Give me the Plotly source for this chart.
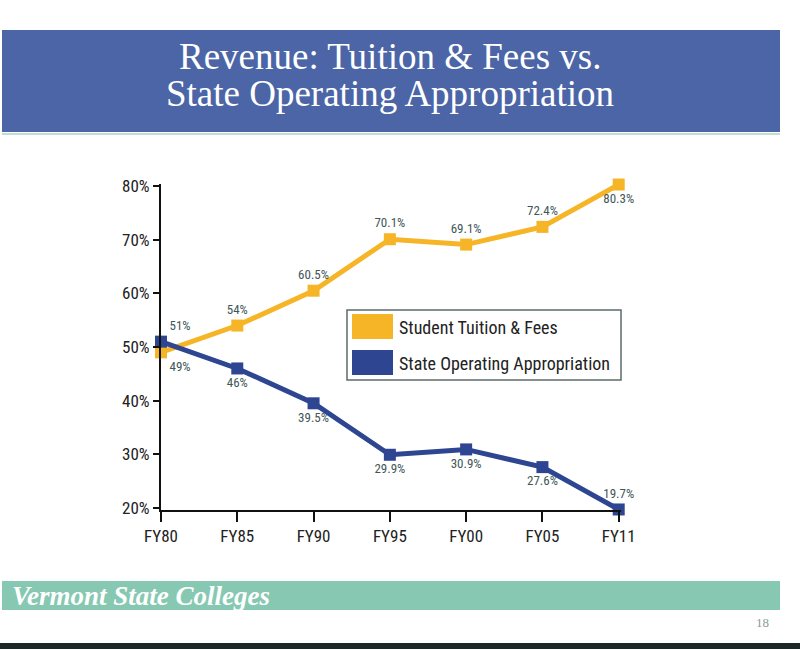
import plotly.graph_objects as go

categories = ["FY80", "FY85", "FY90", "FY95", "FY00", "FY05", "FY11"]
tuition = [49, 54, 60.5, 70.1, 69.1, 72.4, 80.3]
state = [51, 46, 39.5, 29.9, 30.9, 27.6, 19.7]
tuition_labels = ["49%", "54%", "60.5%", "70.1%", "69.1%", "72.4%", "80.3%"]
state_labels = ["51%", "46%", "39.5%", "29.9%", "30.9%", "27.6%", "19.7%"]
y_ticks = [20, 30, 40, 50, 60, 70, 80]
y_tick_labels = ["20%", "30%", "40%", "50%", "60%", "70%", "80%"]

W, H = 800, 649
L, R, T, B = 161, 621, 184, 510

def px(x):
    return (x - L) / (R - L)

def py(y):
    return (B - y) / (B - T)

ORANGE = "#f6b526"
BLUE = "#2e4591"
LABEL = "#3f5757"
NARROW = "Liberation Sans Narrow, Roboto Condensed, Arial Narrow, Roboto, sans-serif"
SERIF = "Liberation Serif, Times New Roman, serif"

xpos = list(range(len(categories)))

fig = go.Figure()
fig.add_trace(go.Scatter(
    x=xpos, y=tuition, mode="lines+markers+text",
    line=dict(color=ORANGE, width=5),
    marker=dict(symbol="square", size=12, color=ORANGE),
    text=tuition_labels,
    textposition=["bottom right", "top center", "top center", "top center",
                  "top center", "top center", "bottom center"],
    textfont=dict(family=NARROW, size=13, color=LABEL),
    cliponaxis=False, showlegend=False, name="Student Tuition & Fees"))
fig.add_trace(go.Scatter(
    x=xpos, y=state, mode="lines+markers+text",
    line=dict(color=BLUE, width=5),
    marker=dict(symbol="square", size=12, color=BLUE),
    text=state_labels,
    textposition=["top right", "bottom center", "bottom center", "bottom center",
                  "bottom center", "bottom center", "top center"],
    textfont=dict(family=NARROW, size=13, color=LABEL),
    cliponaxis=False, showlegend=False, name="State Operating Appropriation"))

shapes = []
# title banner
shapes.append(dict(type="rect", xref="paper", yref="paper",
                   x0=px(2), x1=px(780), y0=py(132), y1=py(30),
                   fillcolor="#4b65a7", line=dict(width=0), layer="below"))
shapes.append(dict(type="line", xref="paper", yref="paper",
                   x0=px(2), x1=px(780), y0=py(134), y1=py(134),
                   line=dict(color="#bfded6", width=2)))
# footer bar
shapes.append(dict(type="rect", xref="paper", yref="paper",
                   x0=px(2), x1=px(780), y0=py(610), y1=py(581),
                   fillcolor="#86c8b1", line=dict(width=0), layer="below"))
# bottom dark strip
shapes.append(dict(type="rect", xref="paper", yref="paper",
                   x0=px(0), x1=px(800), y0=py(649), y1=py(643),
                   fillcolor="#1c2828", line=dict(width=0), layer="below"))
# legend box
shapes.append(dict(type="rect", xref="paper", yref="paper",
                   x0=px(347), x1=px(621), y0=py(380), y1=py(310),
                   fillcolor="white", line=dict(color="#5c6b6b", width=1.5)))
shapes.append(dict(type="rect", xref="paper", yref="paper",
                   x0=px(352), x1=px(393), y0=py(339), y1=py(314),
                   fillcolor=ORANGE, line=dict(width=0)))
shapes.append(dict(type="rect", xref="paper", yref="paper",
                   x0=px(352), x1=px(393), y0=py(375), y1=py(350),
                   fillcolor=BLUE, line=dict(width=0)))

annotations = [
    dict(text="Revenue: Tuition &amp; Fees vs.",
         xref="paper", yref="paper", x=px(390), y=py(56), xanchor="center", yanchor="middle",
         height=30, valign="middle",
         showarrow=False, font=dict(family=SERIF, size=37, color="white")),
    dict(text="State Operating Appropriation",
         xref="paper", yref="paper", x=px(390), y=py(93), xanchor="center", yanchor="middle",
         height=42, valign="middle",
         showarrow=False, font=dict(family=SERIF, size=37, color="white")),
    dict(text="<b><i>Vermont State Colleges</i></b>", xref="paper", yref="paper",
         x=px(10), y=py(596), xanchor="left", yanchor="middle", showarrow=False,
         font=dict(family=SERIF, size=27, color="white")),
    dict(text="18", xref="paper", yref="paper", x=px(771), y=py(622),
         xanchor="right", yanchor="middle", showarrow=False,
         font=dict(family=SERIF, size=13, color="#8a9a9a")),
    dict(text="Student Tuition &amp; Fees", xref="paper", yref="paper",
         x=px(397), y=py(327), xanchor="left", yanchor="middle", showarrow=False,
         font=dict(family=NARROW, size=18, color="#222222")),
    dict(text="State Operating Appropriation", xref="paper", yref="paper",
         x=px(397), y=py(363), xanchor="left", yanchor="middle", showarrow=False,
         font=dict(family=NARROW, size=18, color="#222222")),
]

fig.update_layout(
    width=W, height=H,
    margin=dict(l=L, r=W - R, t=T, b=H - B, pad=0),
    paper_bgcolor="white", plot_bgcolor="white",
    shapes=shapes, annotations=annotations,
    xaxis=dict(range=[0, 6.03], tickmode="array", tickvals=xpos, ticktext=categories,
               showgrid=False, zeroline=False, showline=True, linecolor="#111111",
               linewidth=2, ticks="outside", ticklen=10, tickwidth=2, tickcolor="#111111",
               tickfont=dict(family=NARROW, size=17, color="#222222")),
    yaxis=dict(range=[19.6, 80.4], tickmode="array", tickvals=y_ticks, ticktext=y_tick_labels,
               showgrid=False, zeroline=False, showline=True, linecolor="#111111",
               linewidth=2, ticks="outside", ticklen=6, tickwidth=2, tickcolor="#111111",
               tickfont=dict(family=NARROW, size=17, color="#222222")),
)

fig.write_html("out.html", config={"displayModeBar": False},
               post_script="document.body.style.margin='0';document.body.style.overflow='hidden';")
